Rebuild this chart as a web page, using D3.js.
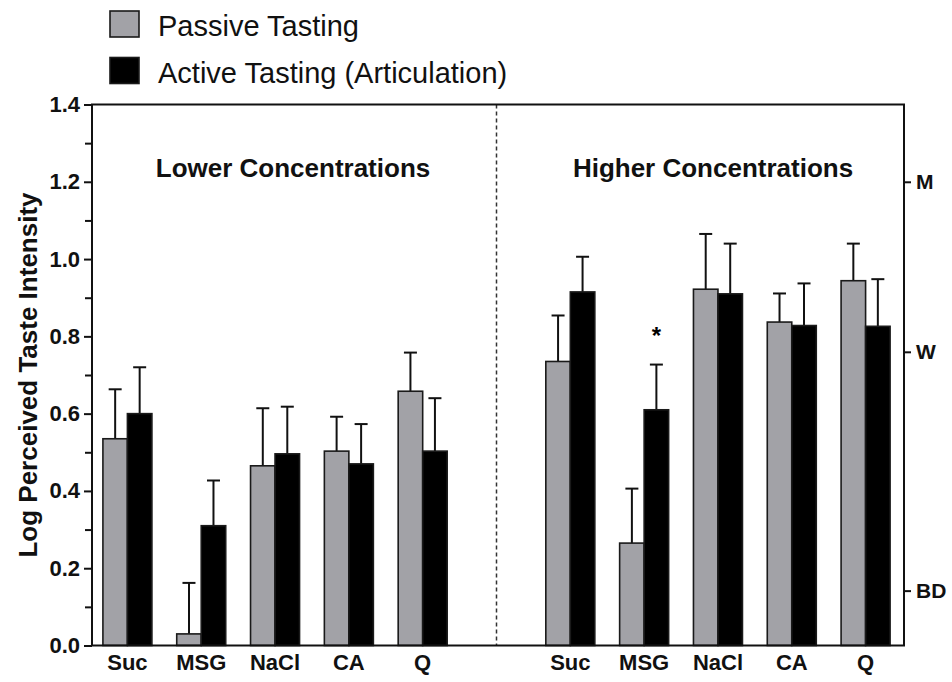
<!DOCTYPE html>
<html>
<head>
<meta charset="utf-8">
<script src="https://cdn.jsdelivr.net/npm/d3@7"></script>
<style>
  body { margin: 0; background: #fff; }
  svg { display: block; font-family: "Liberation Sans", Arial, sans-serif; }
</style>
</head>
<body>
<svg id="chart" width="952" height="682"></svg>
<script>
// values (log perceived intensity, mean and SEM)
const tastants = ["Suc", "MSG", "NaCl", "CA", "Q"];
const conditions = ["Lower Concentrations", "Higher Concentrations"];
const seriesNames = ["Passive Tasting", "Active Tasting (Articulation)"];
const seriesColours = ["#a2a2a7", "#000000"];

const lowPassive = [0.535, 0.030, 0.465, 0.503, 0.658];
const lowPassiveSem = [0.128, 0.132, 0.149, 0.089, 0.100];
const lowActive = [0.600, 0.310, 0.496, 0.470, 0.503];
const lowActiveSem = [0.120, 0.117, 0.122, 0.103, 0.137];

const highPassive = [0.735, 0.265, 0.922, 0.837, 0.944];
const highPassiveSem = [0.119, 0.141, 0.143, 0.074, 0.096];
const highActive = [0.915, 0.610, 0.910, 0.828, 0.826];
const highActiveSem = [0.091, 0.117, 0.130, 0.109, 0.122];

const yTicks = [0, 0.2, 0.4, 0.6, 0.8, 1.0, 1.2, 1.4];
const yMinorTicks = [0.1, 0.3, 0.5, 0.7, 0.9, 1.1, 1.3];
const scaleLabels = ["BD", "W", "M"];
const scaleValues = [0.142, 0.76, 1.2];

// significant difference marks
const stars = [{ cond: 1, tastant: "MSG", series: 1 }];

const svg = d3.select("#chart");
const plotLeft = 92, plotRight = 904, plotTop = 104.5, plotBottom = 645.5;

const slotKeys = [];
tastants.forEach(t => slotKeys.push("0-" + t));
slotKeys.push("gap");
tastants.forEach(t => slotKeys.push("1-" + t));

const x = d3.scaleBand().domain(slotKeys).range([plotLeft - 1.5, plotRight - 1.5]);
const xs = d3.scaleBand().domain([0, 1]).range([-24.5, 24.5]);
const y = d3.scaleLinear().domain([0, 1.4]).range([plotBottom, plotTop]);

const means = [[lowPassive, lowActive], [highPassive, highActive]];
const sems = [[lowPassiveSem, lowActiveSem], [highPassiveSem, highActiveSem]];
const rows = [];
conditions.forEach((c, ci) => {
  tastants.forEach((t, ti) => {
    [0, 1].forEach(si => {
      rows.push({ cond: ci, tastant: t, series: si, key: ci + "-" + t,
        mean: means[ci][si][ti], sem: sems[ci][si][ti] });
    });
  });
});
const cx = d => x(d.key) + x.bandwidth() / 2 + xs(d.series) + xs.bandwidth() / 2;

// divider between the two concentration panels
const divX = x("gap") + x.bandwidth() / 2;
svg.append("line")
  .attr("x1", divX).attr("x2", divX).attr("y1", plotTop).attr("y2", plotBottom)
  .attr("stroke", "#333").attr("stroke-width", 1.5).attr("stroke-dasharray", "4,3");

// error bars (upper only)
const err = svg.append("g").attr("stroke", "#111").attr("stroke-width", 2);
err.selectAll("line.v").data(rows).join("line").attr("class", "v")
  .attr("x1", cx).attr("x2", cx)
  .attr("y1", d => y(d.mean)).attr("y2", d => y(d.mean + d.sem));
err.selectAll("line.cap").data(rows).join("line").attr("class", "cap")
  .attr("x1", d => cx(d) - 6.5).attr("x2", d => cx(d) + 6.5)
  .attr("y1", d => y(d.mean + d.sem)).attr("y2", d => y(d.mean + d.sem));

// bars
svg.append("g").selectAll("rect").data(rows).join("rect")
  .attr("x", d => x(d.key) + x.bandwidth() / 2 + xs(d.series))
  .attr("width", xs.bandwidth())
  .attr("y", d => y(d.mean))
  .attr("height", d => plotBottom - y(d.mean))
  .attr("fill", d => seriesColours[d.series])
  .attr("stroke", "#1a1a1a").attr("stroke-width", 1.6);

// significance star
const findRow = s => rows.find(r => r.cond === s.cond && r.tastant === s.tastant && r.series === s.series);
svg.append("g").selectAll("text").data(stars).join("text")
  .attr("x", s => cx(findRow(s)))
  .attr("y", s => y(findRow(s).mean + findRow(s).sem) - 21)
  .attr("text-anchor", "middle").attr("font-size", 24).attr("font-weight", "bold")
  .text("*");

// frame
svg.append("rect")
  .attr("x", plotLeft).attr("y", plotTop).attr("width", plotRight - plotLeft).attr("height", plotBottom - plotTop)
  .attr("fill", "none").attr("stroke", "#111").attr("stroke-width", 2);

// left axis
const yAxis = svg.append("g").attr("transform", `translate(${plotLeft},0)`)
  .call(d3.axisLeft(y).tickValues(yTicks).tickFormat(d3.format(".1f")).tickSize(8).tickPadding(4));
yAxis.append("g")
  .call(d3.axisLeft(y).tickValues(yMinorTicks).tickFormat("").tickSize(7));
yAxis.selectAll(".domain").remove();
yAxis.selectAll("line").attr("stroke", "#111").attr("stroke-width", 2);
yAxis.selectAll("text").attr("font-size", 22).attr("font-weight", "bold")
  .attr("font-family", "Liberation Sans, Arial, sans-serif").attr("fill", "#111");

// right axis with labelled magnitude anchors
const rAxis = svg.append("g").attr("transform", `translate(${plotRight},0)`)
  .call(d3.axisRight(y).tickValues(scaleValues).tickFormat((d, i) => scaleLabels[i]).tickSize(7).tickPadding(5));
rAxis.selectAll(".domain").remove();
rAxis.selectAll("line").attr("stroke", "#111").attr("stroke-width", 2);
rAxis.selectAll("text").attr("font-size", 21).attr("font-weight", "bold")
  .attr("font-family", "Liberation Sans, Arial, sans-serif").attr("fill", "#111");

// x axis labels
const xAxis = svg.append("g").attr("transform", `translate(0,${plotBottom})`)
  .call(d3.axisBottom(x).tickValues(slotKeys.filter(k => k !== "gap"))
    .tickFormat(k => k.split("-")[1]).tickSize(0).tickPadding(9));
xAxis.selectAll(".domain").remove();
xAxis.selectAll("text").attr("font-size", 22).attr("font-weight", "bold")
  .attr("font-family", "Liberation Sans, Arial, sans-serif").attr("fill", "#111");

// panel titles
const titleX = [293, 713];
svg.append("g").selectAll("text").data(conditions).join("text")
  .attr("x", (d, i) => titleX[i]).attr("y", 177)
  .attr("text-anchor", "middle").attr("font-size", 26).attr("font-weight", "bold")
  .attr("fill", "#111").text(d => d);

// y axis title, centred on the axis
svg.append("text")
  .attr("transform", "rotate(-90)")
  .attr("x", -(plotTop + plotBottom) / 2).attr("y", 37)
  .attr("text-anchor", "middle").attr("font-size", 26).attr("font-weight", "bold")
  .attr("fill", "#111").text("Log Perceived Taste Intensity");

// legend
const legend = svg.append("g").selectAll("g").data(seriesNames).join("g")
  .attr("transform", (d, i) => `translate(110,${11 + i * 46.5})`);
legend.append("rect")
  .attr("width", 29).attr("height", 26)
  .attr("fill", (d, i) => seriesColours[i])
  .attr("stroke", "#1a1a1a").attr("stroke-width", 1.6);
legend.append("text")
  .attr("x", 48).attr("y", 25)
  .attr("font-size", 29).attr("fill", "#111").text(d => d);
</script>
</body>
</html>
